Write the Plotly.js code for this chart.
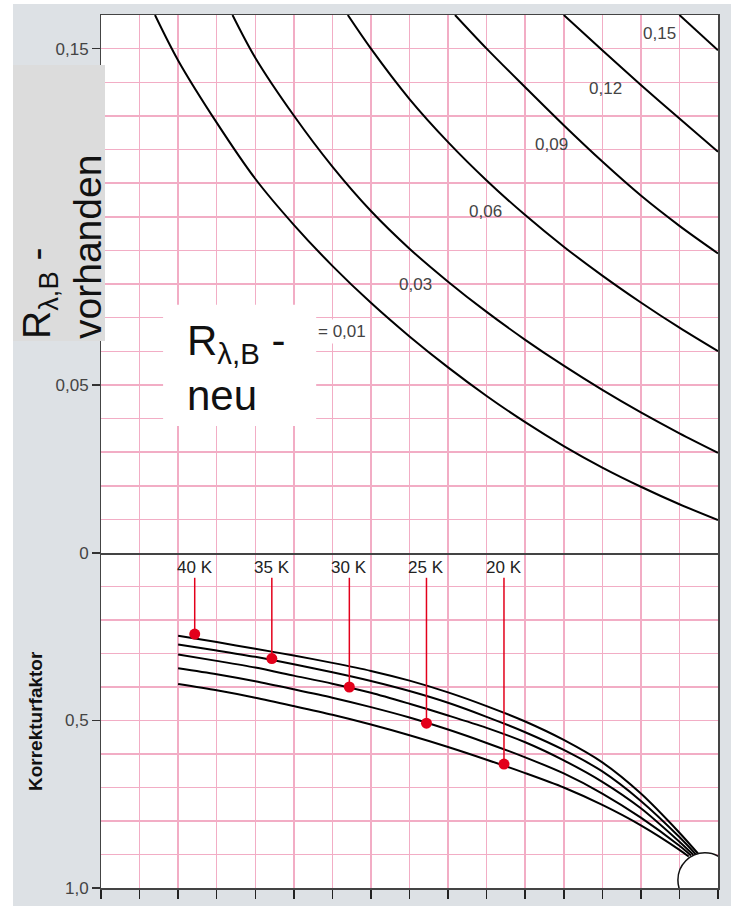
<!DOCTYPE html>
<html><head><meta charset="utf-8">
<script src="https://cdn.plot.ly/plotly-3.0.1.min.js"></script>
<style>
html,body{margin:0;padding:0;background:#fff;width:733px;height:906px;overflow:hidden}
#chart{position:absolute;left:13px;top:4px;width:718px;height:902px}
</style>
</head><body><div id="chart"></div>
<script>
// ---------- DATA (x in grid units 0..16) ----------
// Upper panel: R_lambda,B - vorhanden, one curve per R_lambda,B - neu
const rNeuLabels = ['= 0,01', '0,03', '0,06', '0,09', '0,12', '0,15'];
const c001x = [1.40, 2, 3, 4, 5, 6, 7, 8, 9, 10, 11, 12, 13, 14, 15, 16];
const c001y = [0.160, 0.1465, 0.1280, 0.1113, 0.0976, 0.0854, 0.0744, 0.0644, 0.0552, 0.0467, 0.0389, 0.0318, 0.0254, 0.0197, 0.0145, 0.0098];
const c003x = [3.41, 4, 5, 6, 7, 8, 9, 10, 11, 12, 13, 14, 15, 16];
const c003y = [0.160, 0.1473, 0.1301, 0.1149, 0.1017, 0.0905, 0.0807, 0.0717, 0.0634, 0.0557, 0.0485, 0.0418, 0.0356, 0.0298];
const c006x = [6.40, 7, 8, 9, 10, 11, 12, 13, 14, 15, 16];
const c006y = [0.160, 0.150, 0.1350, 0.1222, 0.1108, 0.1005, 0.0911, 0.0825, 0.0745, 0.0670, 0.0600];
const c009x = [9.18, 10, 11, 12, 13, 14, 15, 16];
const c009y = [0.160, 0.150, 0.1385, 0.1272, 0.1164, 0.1063, 0.0973, 0.0891];
const c012x = [12.0, 13, 14, 15, 16];
const c012y = [0.160, 0.1495, 0.1392, 0.1292, 0.1193];
const c015x = [15.0, 16];
const c015y = [0.160, 0.1495];

// Lower panel: Korrekturfaktor curves
const k1x = [2, 3, 4, 5, 6, 7, 8, 9, 10, 11, 12, 13, 14, 15, 15.48];
const k1y = [0.247, 0.266, 0.286, 0.306, 0.328, 0.352, 0.381, 0.416, 0.457, 0.503, 0.558, 0.625, 0.718, 0.835, 0.897];
const k2x = [2, 3, 4, 5, 6, 7, 8, 9, 10, 11, 12, 13, 14, 15, 15.42];
const k2y = [0.273, 0.291, 0.310, 0.332, 0.356, 0.382, 0.412, 0.447, 0.489, 0.535, 0.588, 0.652, 0.740, 0.848, 0.899];
const k3x = [2, 3, 4, 5, 6, 7, 8, 9, 10, 11, 12, 13, 14, 15, 15.36];
const k3y = [0.303, 0.322, 0.342, 0.366, 0.390, 0.417, 0.450, 0.485, 0.522, 0.565, 0.619, 0.683, 0.762, 0.862, 0.901];
const k4x = [2, 3, 4, 5, 6, 7, 8, 9, 10, 11, 12, 13, 14, 15, 15.30];
const k4y = [0.344, 0.362, 0.383, 0.407, 0.432, 0.460, 0.491, 0.527, 0.567, 0.610, 0.658, 0.718, 0.790, 0.874, 0.903];
const k5x = [2, 3, 4, 5, 6, 7, 8, 9, 10, 11, 12, 13, 14, 15, 15.24];
const k5y = [0.391, 0.410, 0.432, 0.457, 0.483, 0.512, 0.544, 0.579, 0.617, 0.657, 0.700, 0.752, 0.813, 0.886, 0.906];

// Temperature markers
const kelvinLabels = ['40 K', '35 K', '30 K', '25 K', '20 K'];
const kelvinX = [2.43, 4.43, 6.44, 8.44, 10.45];
const kelvinY = [0.242, 0.315, 0.400, 0.508, 0.630];

// Tick labels
const topTickVals = [0, 0.05, 0.15];
const topTickText = ['0', '0,05', '0,15'];
const botTickVals = [0.5, 1.0];
const botTickText = ['0,5', '1,0'];

// ---------- STYLE ----------
const FONT = 'Liberation Sans, Arial, Helvetica, sans-serif';
const GRID = '#f2adc5';
const AXC = '#444';
const RED = '#e3001b';
const SPLIT = 335 / 873;
const LINE_TOP = 0.074;

const traces = [];
[[c001x, c001y], [c003x, c003y], [c006x, c006y], [c009x, c009y], [c012x, c012y], [c015x, c015y]].forEach(function (c) {
  traces.push({x: c[0], y: c[1], xaxis: 'x2', yaxis: 'y', mode: 'lines',
    line: {color: '#000', width: 2, shape: 'spline', smoothing: 0.9}, hoverinfo: 'skip'});
});
[[k1x, k1y], [k2x, k2y], [k3x, k3y], [k4x, k4y], [k5x, k5y]].forEach(function (c) {
  traces.push({x: c[0], y: c[1], xaxis: 'x', yaxis: 'y2', mode: 'lines',
    line: {color: '#000', width: 2, shape: 'spline', smoothing: 0.8}, hoverinfo: 'skip'});
});
kelvinX.forEach(function (kx, i) {
  traces.push({x: [kx, kx], y: [LINE_TOP, kelvinY[i]], xaxis: 'x', yaxis: 'y2', mode: 'lines',
    line: {color: RED, width: 1.5}, hoverinfo: 'skip'});
});
traces.push({x: kelvinX, y: kelvinY, xaxis: 'x', yaxis: 'y2', mode: 'markers',
  marker: {color: RED, size: 11}, hoverinfo: 'skip'});
// invisible traces so the label axes get drawn
traces.push({x: [0], y: [0], xaxis: 'x2', yaxis: 'y3', mode: 'markers', marker: {opacity: 0}, hoverinfo: 'skip'});
traces.push({x: [0], y: [0.5], xaxis: 'x', yaxis: 'y4', mode: 'markers', marker: {opacity: 0}, hoverinfo: 'skip'});

const labelPos = [[6.26, 0.0660], [8.16, 0.0800], [9.97, 0.1017], [11.67, 0.1216], [13.07, 0.1380], [14.48, 0.1546]];
const annotations = [];
rNeuLabels.forEach(function (t, i) {
  annotations.push({text: t, x: labelPos[i][0], y: labelPos[i][1], xref: 'x2', yref: 'y',
    showarrow: false, font: {size: 17, color: '#444', family: FONT},
    bgcolor: i === 0 ? '#ffffff' : 'rgba(0,0,0,0)', borderpad: 2});
});
kelvinLabels.forEach(function (t, i) {
  annotations.push({text: t, x: kelvinX[i], y: 0.042, xref: 'x', yref: 'y2',
    showarrow: false, font: {size: 17, color: '#222', family: FONT}});
});
annotations.push({text: 'R<sub>λ,B</sub> -<br>neu', x: 2.18, y: 0.055, xref: 'x2', yref: 'y',
  xanchor: 'left', yanchor: 'middle', align: 'left', showarrow: false,
  font: {size: 42, color: '#111', family: FONT}});
annotations.push({text: 'R<sub>λ,B</sub> -<br>vorhanden', x: -0.0632, y: 0.6266, xref: 'paper', yref: 'paper',
  xanchor: 'center', yanchor: 'bottom', align: 'left', textangle: -90, showarrow: false,
  font: {size: 39, color: '#111', family: FONT}});
annotations.push({text: '<b>Korrekturfaktor</b>', x: -0.1053, y: 0.1913, xref: 'paper', yref: 'paper',
  xanchor: 'center', yanchor: 'middle', textangle: -90, showarrow: false,
  font: {size: 19, color: '#111', family: FONT}});

const gridAxis = {showticklabels: false, ticks: '', showgrid: true, gridcolor: GRID, gridwidth: 1.5, zeroline: false};
const labelAxis = {tickmode: 'array', ticks: 'outside', ticklen: 8, tickwidth: 1.5, tickcolor: '#333',
  tickfont: {size: 17, color: '#444', family: FONT}, showgrid: false, zeroline: false, showline: false, side: 'left'};

const layout = {
  width: 718, height: 902,
  margin: {l: 88, r: 13, t: 11, b: 18, pad: 0},
  paper_bgcolor: '#dde1e5', plot_bgcolor: '#ffffff',
  showlegend: false,
  font: {family: FONT, color: '#333'},
  xaxis: {domain: [0, 1], anchor: 'y2', range: [0, 16], tickmode: 'linear', tick0: 0, dtick: 1,
    ticks: 'outside', ticklen: 9, tickwidth: 1.5, tickcolor: '#222', showticklabels: false,
    showgrid: true, gridcolor: GRID, gridwidth: 1.5, zeroline: false,
    showline: true, mirror: false, linecolor: AXC, linewidth: 1.5},
  xaxis2: {domain: [0, 1], anchor: 'y', range: [0, 16], tickmode: 'linear', tick0: 0, dtick: 1,
    ticks: '', showticklabels: false,
    showgrid: true, gridcolor: GRID, gridwidth: 1.5, zeroline: false,
    showline: true, mirror: true, linecolor: AXC, linewidth: 1.5},
  yaxis: Object.assign({domain: [SPLIT, 1], anchor: 'x2', range: [0, 0.16], tickmode: 'linear', tick0: 0, dtick: 0.01,
    showline: true, mirror: true, linecolor: AXC, linewidth: 1.5}, gridAxis),
  yaxis2: Object.assign({domain: [0, SPLIT], anchor: 'x', range: [1, 0], tickmode: 'linear', tick0: 0, dtick: 0.1,
    showline: true, mirror: true, linecolor: AXC, linewidth: 1.5}, gridAxis),
  yaxis3: Object.assign({overlaying: 'y', anchor: 'x2', range: [0, 0.16], tickvals: topTickVals, ticktext: topTickText}, labelAxis),
  yaxis4: Object.assign({overlaying: 'y2', anchor: 'x', range: [1, 0], tickvals: botTickVals, ticktext: botTickText}, labelAxis),
  shapes: [
    {type: 'rect', xref: 'x2', yref: 'y', x0: 1.61, x1: 5.58, y0: 0.0378, y1: 0.0738,
      fillcolor: '#ffffff', line: {width: 0}, layer: 'above'},
    {type: 'rect', xref: 'paper', yref: 'paper', x0: -0.1426, x1: 0.0065, y0: 0.6266, y1: 0.9427,
      fillcolor: '#dcdcdc', line: {width: 0}, layer: 'above'},
    {type: 'circle', xref: 'x', yref: 'y2', x0: 14.96, x1: 16.36, y0: 0.895, y1: 1.057,
      fillcolor: '#ffffff', line: {color: '#111', width: 1.5}, layer: 'above'}
  ],
  annotations: annotations
};

Plotly.newPlot('chart', traces, layout, {staticPlot: true, displayModeBar: false});
</script></body></html>
